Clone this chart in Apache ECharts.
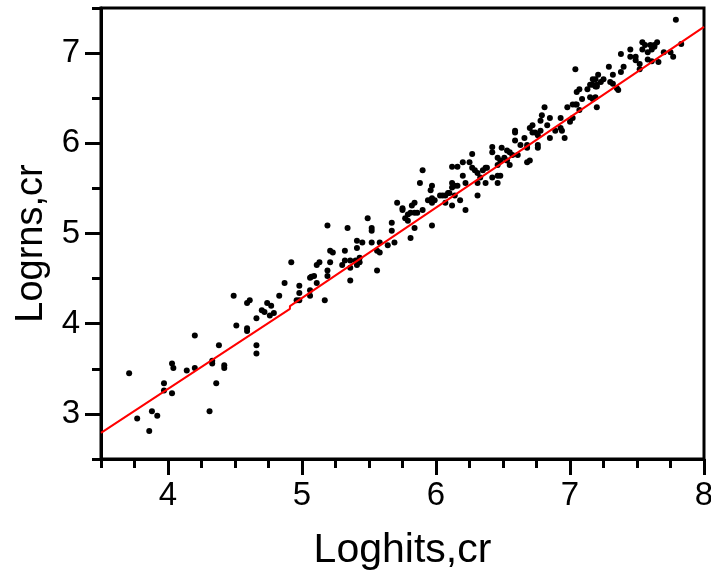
<!DOCTYPE html>
<html><head><meta charset="utf-8">
<script src="https://cdn.jsdelivr.net/npm/echarts@6/dist/echarts.min.js"></script>
<style>html,body{margin:0;padding:0;background:#fff}#c{width:711px;height:573px}</style>
</head><body><div id="c"></div>
<script>
const loghits = [3.71,3.77,3.86,3.88,3.92,3.97,3.97,4.03,4.03,4.04,
 4.14,4.20,4.20,4.31,4.33,4.33,4.36,4.38,4.42,4.42,
 4.49,4.51,4.59,4.61,4.59,4.59,4.66,4.66,4.66,4.70,
 4.72,4.74,4.76,4.77,4.79,4.83,4.87,4.92,4.98,4.98,
 4.98,4.96,5.06,5.07,5.09,5.06,5.06,5.11,5.11,5.13,
 5.19,5.17,5.19,5.19,5.21,5.21,5.23,5.30,5.32,5.36,
 5.40,5.32,5.34,5.36,5.36,5.41,5.45,5.41,5.41,5.43,
 5.43,5.49,5.52,5.52,5.52,5.56,5.56,5.58,5.58,5.64,
 5.67,5.67,5.69,5.71,5.75,5.75,5.77,5.79,5.79,5.81,
 5.81,5.82,5.84,5.84,5.86,5.84,5.90,5.90,5.88,5.96,
 5.97,5.94,5.96,5.97,5.99,5.97,5.97,6.03,6.05,6.07,
 6.07,6.09,6.10,6.12,6.16,6.12,6.12,6.14,6.16,6.12,
 6.14,6.18,6.20,6.20,6.22,6.22,6.25,6.27,6.27,6.29,
 6.31,6.31,6.31,6.33,6.35,6.37,6.38,6.37,6.42,6.42,
 6.42,6.46,6.46,6.46,6.48,6.46,6.48,6.49,6.53,6.55,
 6.51,6.53,6.55,6.57,6.59,6.59,6.59,6.61,6.63,6.66,
 6.68,6.68,6.68,6.70,6.70,6.72,6.72,6.74,6.76,6.76,
 6.76,6.78,6.78,6.79,6.81,6.83,6.85,6.85,6.89,6.93,
 6.93,6.94,6.96,6.98,7.00,7.02,7.02,7.04,7.05,7.04,
 7.05,7.07,7.07,7.09,7.13,7.15,7.17,
 7.17,7.15,7.17,7.19,7.20,7.20,7.20,7.19,
 7.21,7.23,7.25,7.19,7.29,7.30,7.32,7.35,7.36,7.32,
 7.38,7.40,7.38,7.45,7.45,7.49,7.49,
 7.52,7.52,7.54,7.56,7.60,7.63,7.65,7.54,7.58,7.61,
 7.63,7.58,7.61,7.66,7.70,7.75,7.77,7.79,7.83];

const logrns = [3.45,2.95,2.81,3.03,2.98,3.34,3.26,3.23,3.56,3.51,
 3.48,3.51,3.87,3.03,3.59,3.56,3.34,3.76,3.54,3.51,
 4.31,3.98,4.23,4.26,3.95,3.92,3.76,3.67,4.06,4.15,
 4.13,4.23,4.09,4.20,4.12,4.31,4.45,4.68,4.42,4.34,
 4.26,4.26,4.51,4.52,4.53,4.37,4.31,4.45,4.65,4.68,
 5.09,4.26,4.59,4.53,4.68,4.81,4.79,4.65,4.70,4.70,
 4.70,4.81,5.06,4.62,4.48,4.92,4.90,4.84,4.65,4.68,
 4.73,5.17,5.06,5.03,4.90,4.59,4.81,4.79,4.90,4.87,
 5.12,5.03,4.90,5.34,5.28,5.26,5.17,5.14,5.21,4.95,
 5.23,5.31,5.34,5.23,5.23,5.06,5.70,5.26,5.56,5.48,
 5.53,5.37,5.37,5.39,5.37,5.34,5.09,5.42,5.42,5.42,
 5.34,5.45,5.45,5.74,5.74,5.56,5.51,5.53,5.53,5.31,
 5.42,5.37,5.79,5.64,5.56,5.26,5.79,5.88,5.73,5.70,
 5.67,5.56,5.42,5.62,5.70,5.73,5.73,5.56,5.96,5.90,
 5.62,5.76,5.64,5.56,5.64,5.84,5.81,5.95,5.92,5.90,
 5.84,5.81,5.76,5.87,6.14,6.12,6.03,5.87,5.98,6.06,
 5.98,5.95,5.79,5.81,6.17,6.20,6.12,6.12,6.09,5.98,
 5.95,6.14,6.25,6.31,6.40,6.20,6.06,6.28,6.14,6.28,
 6.17,6.14,6.06,6.40,6.24,6.28,6.43,6.43,6.43,6.82,
 6.57,6.60,6.37,6.49,6.60,6.65,6.65,
 6.71,6.51,6.49,6.51,6.65,6.63,6.40,6.71,
 6.76,6.68,6.71,6.63,6.85,6.68,6.66,6.61,6.59,6.76,
 6.79,6.85,6.99,7.04,6.96,6.96,6.92,
 6.88,6.82,7.12,7.09,7.09,7.09,7.12,7.04,7.01,7.04,
 7.07,6.93,6.91,6.90,7.01,7.01,6.96,7.37,7.10];

const fitX = [3.5, 4.91, 4.91, 8.0];
const fitY = [2.79, 4.165, 4.195, 7.29];

const xMajorTicks = [4, 5, 6, 7, 8];
const xMinorTicks = [3.5, 3.75, 4.25, 4.5, 4.75, 5.25, 5.5, 5.75, 6.25, 6.5, 6.75, 7.25, 7.5, 7.75];
const yMajorTicks = [3, 4, 5, 6, 7];
const yMinorTicks = [2.5, 3.5, 4.5, 5.5, 6.5, 7.5];

const xName = 'Loghits,cr';
const yName = 'Logrns,cr';

const points = loghits.map((v, i) => [v, logrns[i]]);
const fitLine = fitX.map((v, i) => [v, fitY[i]]);

const FONT = "'Liberation Sans', Arial, sans-serif";
const black = '#000';

const chart = echarts.init(document.getElementById('c'), null, {renderer: 'canvas'});
chart.setOption({
  animation: false,
  backgroundColor: '#fff',
  grid: {left: 101, right: 7, top: 8, bottom: 114, show: true, borderColor: black, borderWidth: 3,
         backgroundColor: 'transparent', containLabel: false, outerBoundsMode: 'none'},
  xAxis: [{
    type: 'value', min: 3.5, max: 8, position: 'bottom',
    name: xName, nameLocation: 'middle', nameGap: 71,
    nameTextStyle: {fontFamily: FONT, fontSize: 41, color: black},
    axisLine: {show: true, onZero: false, lineStyle: {color: black, width: 3}},
    axisTick: {show: true, customValues: xMajorTicks, length: 16, lineStyle: {color: black, width: 3}},
    axisLabel: {customValues: xMajorTicks, fontFamily: FONT, fontSize: 33, color: black, margin: 20},
    splitLine: {show: false}
  }, {
    type: 'value', min: 3.5, max: 8, position: 'bottom', gridIndex: 0,
    axisLine: {show: false, onZero: false},
    axisTick: {show: true, customValues: xMinorTicks, length: 9, lineStyle: {color: black, width: 3}},
    axisLabel: {show: false},
    splitLine: {show: false}
  }],
  yAxis: [{
    type: 'value', min: 2.5, max: 7.5, position: 'left',
    name: yName, nameLocation: 'middle', nameGap: 50,
    nameTextStyle: {fontFamily: FONT, fontSize: 38, color: black, padding: [0, 20, 0, 0]},
    axisLine: {show: true, onZero: false, lineStyle: {color: black, width: 3}},
    axisTick: {show: true, customValues: yMajorTicks, length: 16, lineStyle: {color: black, width: 3}},
    axisLabel: {customValues: yMajorTicks, fontFamily: FONT, fontSize: 33, color: black, margin: 21},
    splitLine: {show: false}
  }, {
    type: 'value', min: 2.5, max: 7.5, position: 'left', gridIndex: 0,
    axisLine: {show: false, onZero: false},
    axisTick: {show: true, customValues: yMinorTicks, length: 9, lineStyle: {color: black, width: 3}},
    axisLabel: {show: false},
    splitLine: {show: false}
  }],
  series: [{
    type: 'scatter', xAxisIndex: 0, yAxisIndex: 0,
    data: points, symbol: 'circle', symbolSize: 6,
    itemStyle: {color: black, opacity: 1}, z: 2
  }, {
    type: 'line', xAxisIndex: 0, yAxisIndex: 0,
    data: fitLine, showSymbol: false, symbol: 'none',
    lineStyle: {color: '#ff0000', width: 2}, z: 3
  }]
});
</script>
</body></html>
